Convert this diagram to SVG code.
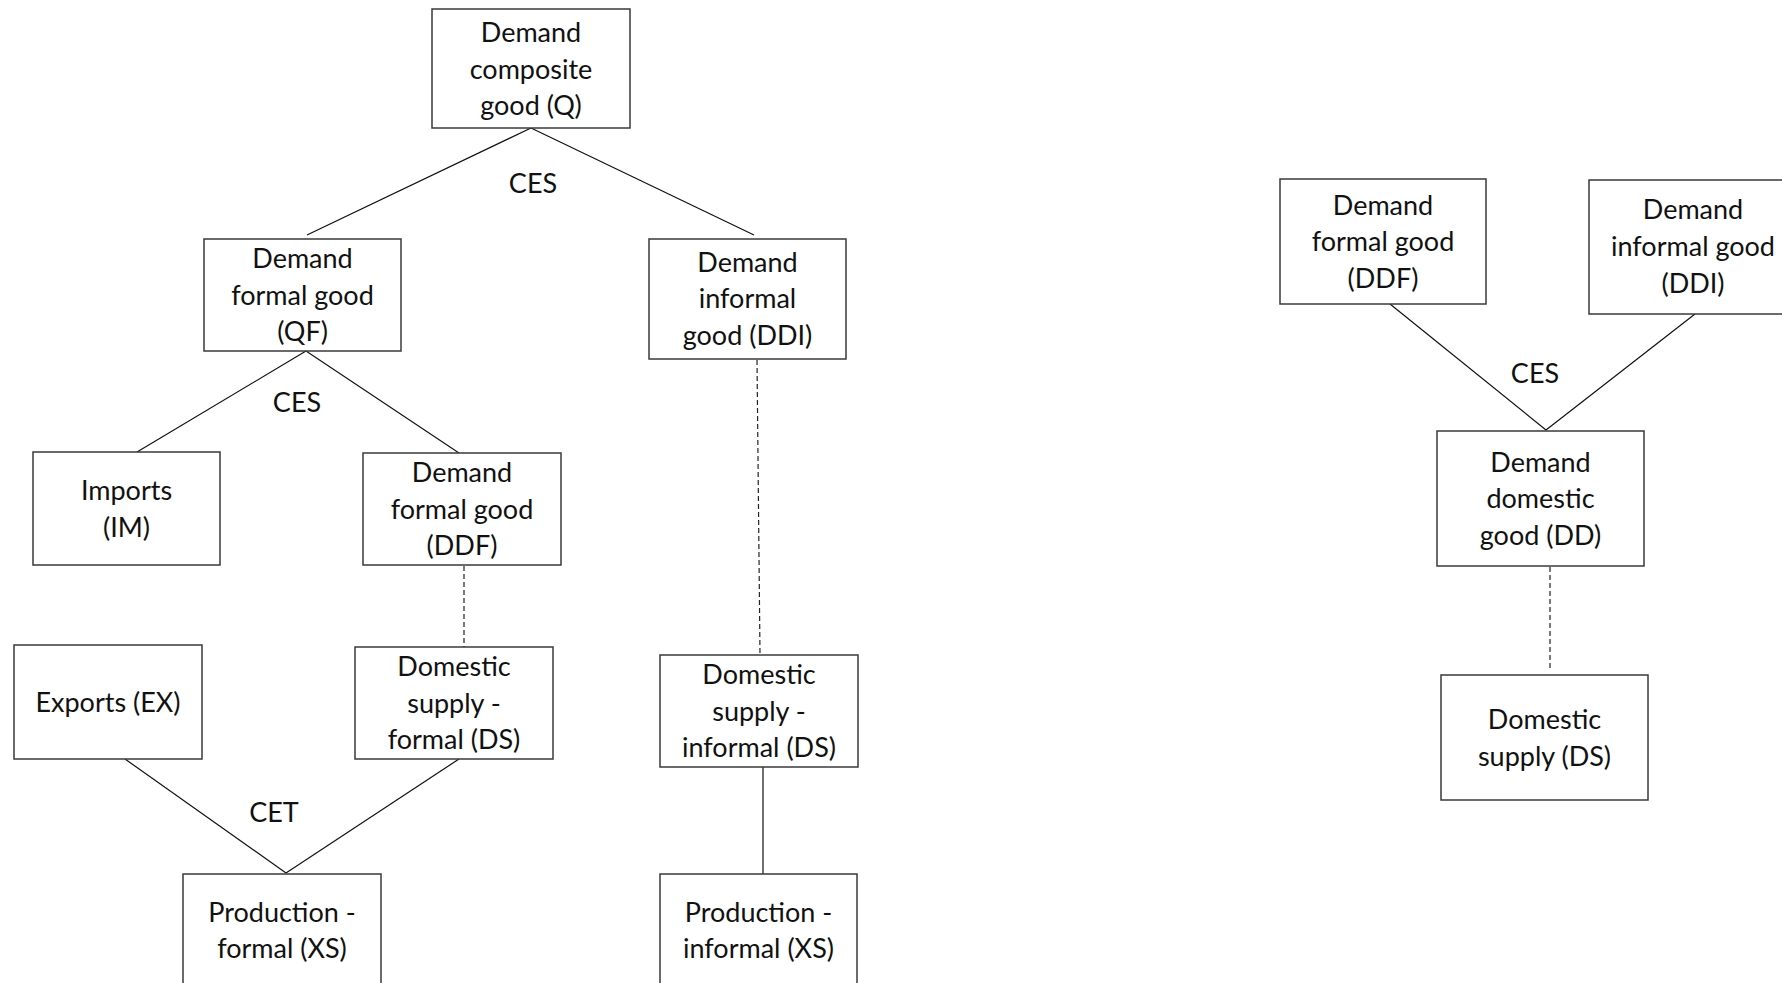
<svg xmlns="http://www.w3.org/2000/svg" width="1782" height="983" viewBox="0 0 1782 983">
<style>
.box{fill:#fff;stroke:#3a3a3a;stroke-width:1.5}
.t{font-family:Lato,"Open Sans",sans-serif;font-size:27px;fill:#111;text-anchor:middle}
.ln{stroke:#111;stroke-width:1.2;fill:none}
.dash{stroke:#222;stroke-width:1.2;fill:none;stroke-dasharray:5 3}
</style>
<rect width="1782" height="983" fill="#fff"/>
<g id="connectors">
<line class="ln" x1="531" y1="128" x2="307" y2="235"/>
<line class="ln" x1="531" y1="128" x2="754" y2="235"/>
<line class="ln" x1="306" y1="351" x2="137" y2="452"/>
<line class="ln" x1="306" y1="351" x2="459" y2="453"/>
<line class="dash" x1="464" y1="566" x2="464" y2="647"/>
<line class="dash" x1="757" y1="360" x2="760" y2="655"/>
<line class="ln" x1="125" y1="759" x2="286" y2="873"/>
<line class="ln" x1="459" y1="759" x2="286" y2="873"/>
<line class="ln" x1="763" y1="767" x2="763" y2="874"/>
<line class="ln" x1="1390" y1="304" x2="1546" y2="430"/>
<line class="ln" x1="1695" y1="314" x2="1546" y2="430"/>
<line class="dash" x1="1550" y1="567" x2="1550" y2="671"/>
<text class="t" x="533" y="193">CES</text>
<text class="t" x="297" y="412">CES</text>
<text class="t" x="274" y="822">CET</text>
<text class="t" x="1535" y="383">CES</text>
</g>
<g id="q"><rect class="box" x="432" y="9" width="198" height="119"/>
<text class="t" x="531" y="42">Demand</text><text class="t" x="531" y="78.5">composite</text><text class="t" x="531" y="115">good (Q)</text></g>
<g id="qf"><rect class="box" x="204" y="239" width="197" height="112"/>
<text class="t" x="302.5" y="268">Demand</text><text class="t" x="302.5" y="304.5">formal good</text><text class="t" x="302.5" y="341">(QF)</text></g>
<g id="ddi"><rect class="box" x="649" y="239" width="197" height="120"/>
<text class="t" x="747.5" y="271.5">Demand</text><text class="t" x="747.5" y="308">informal</text><text class="t" x="747.5" y="344.5">good (DDI)</text></g>
<g id="im"><rect class="box" x="33" y="452" width="187" height="113"/>
<text class="t" x="126.5" y="500">Imports</text><text class="t" x="126.5" y="536.5">(IM)</text></g>
<g id="ddf"><rect class="box" x="363" y="453" width="198" height="112"/>
<text class="t" x="462" y="482">Demand</text><text class="t" x="462" y="518.5">formal good</text><text class="t" x="462" y="555">(DDF)</text></g>
<g id="ex"><rect class="box" x="14" y="645" width="188" height="114"/>
<text class="t" x="108" y="711.5">Exports (EX)</text></g>
<g id="dsf"><rect class="box" x="355" y="647" width="198" height="112"/>
<text class="t" x="454" y="676">Domestic</text><text class="t" x="454" y="712.5">supply -</text><text class="t" x="454" y="749">formal (DS)</text></g>
<g id="dsi"><rect class="box" x="660" y="655" width="198" height="112"/>
<text class="t" x="759" y="684">Domestic</text><text class="t" x="759" y="720.5">supply -</text><text class="t" x="759" y="757">informal (DS)</text></g>
<g id="xsf"><rect class="box" x="183" y="874" width="198" height="130"/>
<text class="t" x="282" y="922">Production -</text><text class="t" x="282" y="958">formal (XS)</text></g>
<g id="xsi"><rect class="box" x="660" y="874" width="197" height="130"/>
<text class="t" x="758.5" y="922">Production -</text><text class="t" x="758.5" y="958">informal (XS)</text></g>
<g id="ddf2"><rect class="box" x="1280" y="179" width="206" height="125"/>
<text class="t" x="1383" y="214.5">Demand</text><text class="t" x="1383" y="251">formal good</text><text class="t" x="1383" y="287.5">(DDF)</text></g>
<g id="ddi2"><rect class="box" x="1589" y="180" width="210" height="134"/>
<text class="t" x="1693" y="219">Demand</text><text class="t" x="1693" y="256">informal good</text><text class="t" x="1693" y="293">(DDI)</text></g>
<g id="dd"><rect class="box" x="1437" y="431" width="207" height="135"/>
<text class="t" x="1540.5" y="471.5">Demand</text><text class="t" x="1540.5" y="508">domestic</text><text class="t" x="1540.5" y="544.5">good (DD)</text></g>
<g id="ds"><rect class="box" x="1441" y="675" width="207" height="125"/>
<text class="t" x="1544.5" y="729">Domestic</text><text class="t" x="1544.5" y="765.5">supply (DS)</text></g>
</svg>
